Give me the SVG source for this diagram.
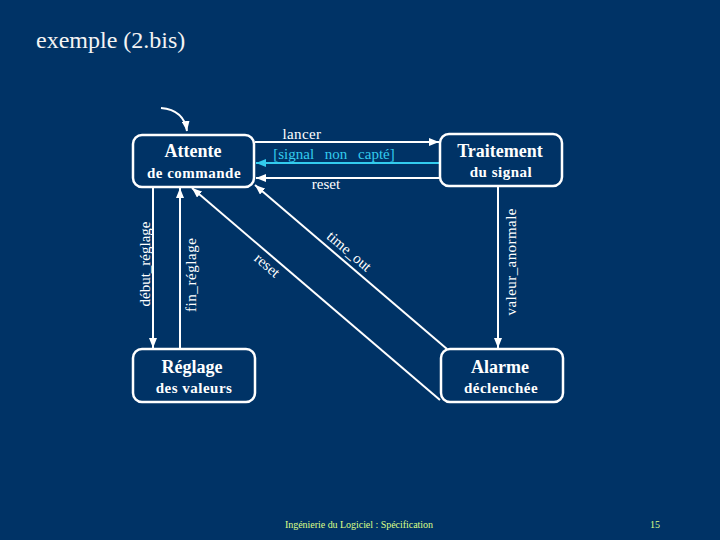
<svg xmlns="http://www.w3.org/2000/svg" width="720" height="540" viewBox="0 0 720 540">
<style>
.box{fill:none;stroke:#ffffff;stroke-width:2.5}
.ttl{font-family:"Liberation Serif",serif;font-weight:bold;font-size:18px;fill:#ffffff;text-anchor:middle}
.sub{font-family:"Liberation Serif",serif;font-weight:bold;font-size:15px;fill:#ffffff;text-anchor:middle;letter-spacing:0.5px}
.lbl{font-family:"Liberation Serif",serif;font-size:15px;fill:#ffffff;text-anchor:middle}
.ln{fill:none;stroke:#ffffff;stroke-width:2}
</style>
<defs>
<marker id="aw" markerUnits="userSpaceOnUse" markerWidth="10" markerHeight="8" refX="10" refY="4" orient="auto">
<path d="M0,0 L10,4 L0,8 z" fill="#ffffff"/>
</marker>
<marker id="ac" markerUnits="userSpaceOnUse" markerWidth="10" markerHeight="8" refX="10" refY="4" orient="auto">
<path d="M0,0 L10,4 L0,8 z" fill="#33ccee"/>
</marker>
</defs>
<rect width="720" height="540" fill="#003366"/>
<text x="36" y="48" font-family="Liberation Serif,serif" font-size="24" fill="#f4f4f4">exemple (2.bis)</text>

<g id="connectors">
<path class="ln" d="M161,108 Q184,110 187,131" marker-end="url(#aw)"/>
<path class="ln" d="M255,142 H439" marker-end="url(#aw)"/>
<path d="M440,163 H256" fill="none" stroke="#33ccee" stroke-width="2" marker-end="url(#ac)"/>
<path class="ln" d="M440,178 H256" marker-end="url(#aw)"/>
<path class="ln" d="M153,187 V348" marker-end="url(#aw)"/>
<path class="ln" d="M180,349 V188" marker-end="url(#aw)"/>
<path class="ln" d="M498,186 V348" marker-end="url(#aw)"/>
<path class="ln" d="M440,400 L192,188" marker-end="url(#aw)"/>
<path class="ln" d="M447,349 L255,185" marker-end="url(#aw)"/>
<text class="lbl" x="302" y="139" letter-spacing="0.4">lancer</text>
<text class="lbl" x="334" y="159" fill="#33ccee" style="fill:#33ccee" word-spacing="7">[signal non capté]</text>
<text class="lbl" x="326" y="189">reset</text>
<text class="lbl" transform="translate(150,264) rotate(-90)">début_réglage</text>
<text class="lbl" transform="translate(196,275) rotate(-90)" textLength="74">fin_réglage</text>
<text class="lbl" transform="translate(516,262) rotate(-90)" textLength="107">valeur_anormale</text>
<text class="lbl" transform="translate(264,269) rotate(40.5)">reset</text>
<text class="lbl" transform="translate(346,255) rotate(40.5)">time_out</text>
</g>

<g id="attente">
<rect class="box" x="133" y="135" width="121" height="52" rx="9"/>
<text class="ttl" x="193" y="157">Attente</text>
<text class="sub" x="194" y="178">de commande</text>
</g>
<g id="traitement">
<rect class="box" x="440" y="134" width="122" height="52" rx="9"/>
<text class="ttl" x="500" y="157">Traitement</text>
<text class="sub" x="501" y="177">du signal</text>
</g>
<g id="reglage">
<rect class="box" x="133" y="349" width="122" height="53" rx="9"/>
<text class="ttl" x="192" y="373">Réglage</text>
<text class="sub" x="194" y="393">des valeurs</text>
</g>
<g id="alarme">
<rect class="box" x="441" y="349" width="122" height="53" rx="9"/>
<text class="ttl" x="500" y="373">Alarme</text>
<text class="sub" x="501" y="393">déclenchée</text>
</g>

<text x="285" y="528" font-family="Liberation Serif,serif" font-size="10" fill="#ddff88" textLength="148">Ingénierie du Logiciel : Spécification</text>
<text x="650" y="528" font-family="Liberation Serif,serif" font-size="10" fill="#ddff88">15</text>
</svg>
